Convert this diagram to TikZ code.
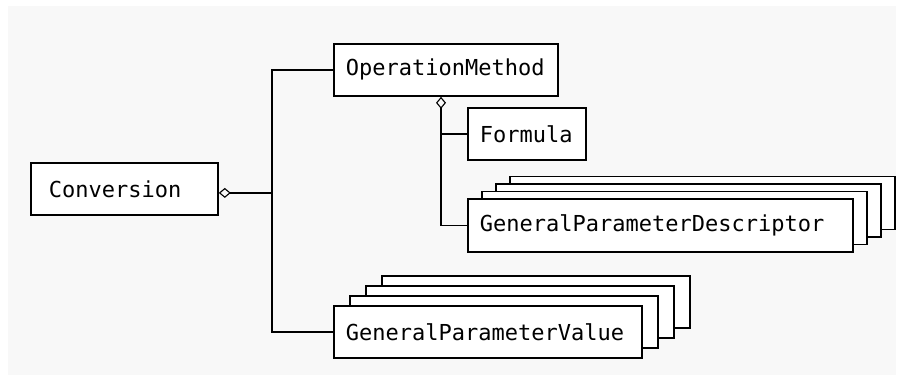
\documentclass[tikz,border=0pt]{standalone}
\usepackage{fontspec}
\setmonofont{DejaVu Sans Mono}
\usetikzlibrary{arrows.meta, shadows}

\definecolor{panelgray}{HTML}{F8F8F8}

\begin{document}
\begin{tikzpicture}[x=1pt, y=-1pt, line width=1.8pt,
    class box/.style={draw, fill=white, rectangle, anchor=north west, minimum height=52pt,
        inner xsep=12pt, align=left, font=\ttfamily\fontsize{22}{26}\selectfont},
    stacked/.style 2 args={
        copy shadow={draw, fill=white, shadow xshift=3*#1, shadow yshift=3*#2},
        copy shadow={draw, fill=white, shadow xshift=2*#1, shadow yshift=2*#2},
        copy shadow={draw, fill=white, shadow xshift=#1, shadow yshift=#2}},
    aggregate/.style={{Diamond[open, length=12pt, width=10pt, line width=1.1pt]}-}]
    \useasboundingbox (0,0) rectangle (904,381);
    \fill[panelgray] (8,6) rectangle (896,375);

    \node[class box, inner xsep=18pt, text width=151pt] (conversion) at (30,162) {Conversion};
    \node[class box, text width=200pt] (method) at (333,43) {OperationMethod};
    \node[class box, text width=94pt] (formula) at (467,107) {Formula};
    \node[class box, stacked={14pt}{7.5pt}, text width=361pt, minimum height=53pt] (descriptor) at (467,198) {GeneralParameterDescriptor};
    \node[class box, stacked={16pt}{10pt}, text width=284pt] (value) at (333,305) {GeneralParameterValue};

    \coordinate (out) at ([yshift=-4pt]conversion.east);
    \coordinate (trunk) at (272,0);
    \coordinate (spine) at (441,0);

    \draw[aggregate] (out) -- (out -| trunk);
    \draw (method.west) -| (out -| trunk) |- (value.west);
    \draw[aggregate] (method.south -| spine) |- (descriptor.west);
    \draw (formula.west) -- (formula.west -| spine);
\end{tikzpicture}
\end{document}
